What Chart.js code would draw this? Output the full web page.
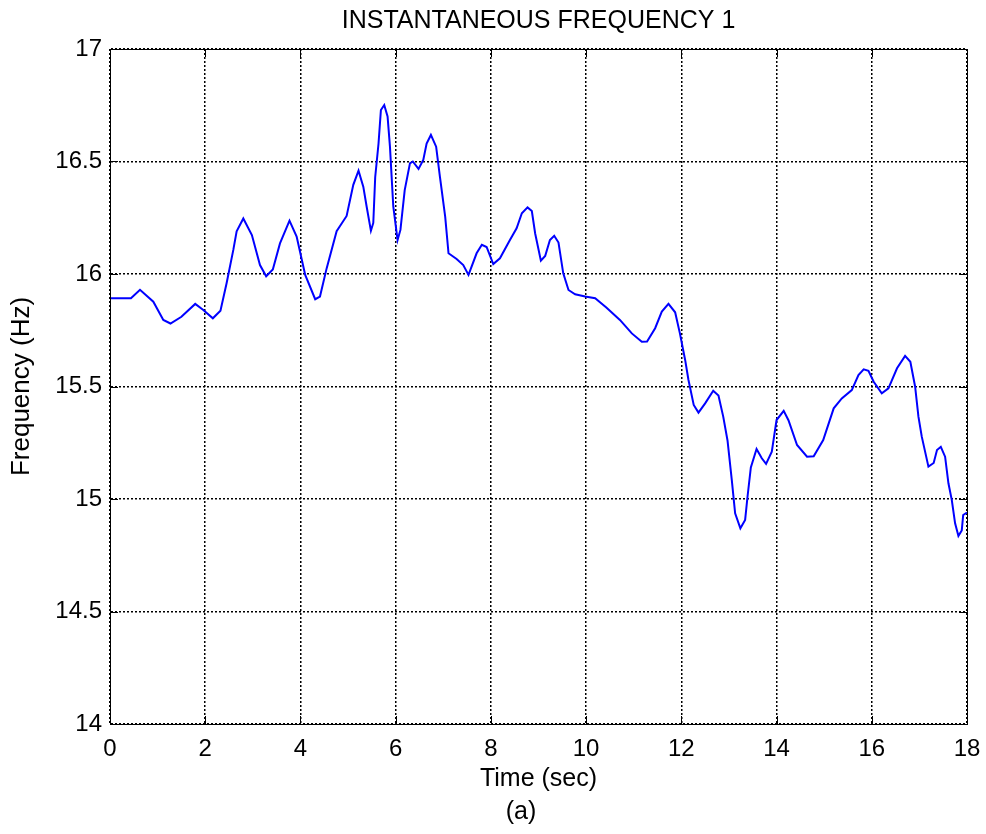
<!DOCTYPE html>
<html>
<head>
<meta charset="utf-8">
<title>Instantaneous Frequency 1</title>
<script src="https://cdn.jsdelivr.net/npm/chart.js@4.4.1/dist/chart.umd.min.js"></script>
<style>
    html, body { margin: 0; padding: 0; background: #fff; }
    canvas { display: block; }
</style>
</head>
<body>
<canvas id="freqChart" width="986" height="834"></canvas>
<script>
    // values (time in sec, frequency in Hz)
    const timeSec = [
        0, 0.44, 0.63, 0.91, 1.12, 1.27, 1.5, 1.79, 1.96, 2.16, 2.32, 2.45, 2.59, 2.66, 2.8, 2.98,
        3.15, 3.28, 3.42, 3.57, 3.77, 3.92, 4.1, 4.31, 4.41, 4.55, 4.76, 4.97, 5.11, 5.22, 5.32,
        5.39, 5.48, 5.53, 5.57, 5.64, 5.69, 5.76, 5.83, 5.88, 5.95, 6.04, 6.1, 6.19, 6.3, 6.36,
        6.48, 6.58, 6.65, 6.74, 6.85, 6.93, 7.04, 7.11, 7.28, 7.42, 7.53, 7.7, 7.81, 7.91, 8.05,
        8.19, 8.4, 8.54, 8.65, 8.77, 8.86, 8.93, 9.05, 9.14, 9.24, 9.33, 9.42, 9.52, 9.63, 9.77,
        9.98, 10.19, 10.43, 10.71, 10.96, 11.17, 11.28, 11.45, 11.59, 11.73, 11.87, 11.97, 12.08,
        12.15, 12.26, 12.36, 12.5, 12.67, 12.78, 12.88, 12.97, 13.06, 13.13, 13.24, 13.34, 13.39,
        13.46, 13.58, 13.69, 13.78, 13.9, 14.0, 14.15, 14.25, 14.43, 14.64, 14.78, 14.98, 15.2,
        15.37, 15.58, 15.72, 15.83, 15.93, 16.04, 16.21, 16.35, 16.53, 16.7, 16.81, 16.91, 16.98,
        17.05, 17.19, 17.3, 17.37, 17.45, 17.54, 17.61, 17.68, 17.75, 17.82, 17.89, 17.92, 18.0
    ];
    const freqHz = [
        15.892, 15.892, 15.93, 15.877, 15.796, 15.78, 15.81, 15.867, 15.84, 15.803, 15.837, 15.96, 16.107, 16.19, 16.247, 16.173,
        16.04, 15.99, 16.02, 16.136, 16.237, 16.166, 15.996, 15.888, 15.9, 16.025, 16.19, 16.258, 16.396, 16.459, 16.388,
        16.3, 16.192, 16.227, 16.43, 16.58, 16.729, 16.751, 16.7, 16.566, 16.3, 16.151, 16.196, 16.373, 16.492, 16.5,
        16.467, 16.507, 16.58, 16.618, 16.566, 16.432, 16.255, 16.092, 16.067, 16.04, 15.996, 16.092, 16.13, 16.12, 16.044,
        16.07, 16.151, 16.203, 16.27, 16.296, 16.28, 16.18, 16.059, 16.08, 16.151, 16.17, 16.14, 16.003, 15.929, 15.91,
        15.9, 15.892, 15.85, 15.796, 15.736, 15.699, 15.7, 15.759, 15.833, 15.867, 15.83, 15.736, 15.618,
        15.529, 15.418, 15.384, 15.425, 15.481, 15.46, 15.366, 15.26, 15.084, 14.936, 14.87, 14.907, 15.01,
        15.14, 15.222, 15.181, 15.156, 15.21, 15.351, 15.392, 15.35, 15.24, 15.188, 15.19, 15.262, 15.403,
        15.447, 15.484, 15.551, 15.576, 15.57, 15.521, 15.47, 15.492, 15.581, 15.636, 15.61, 15.5, 15.366,
        15.277, 15.144, 15.16, 15.218, 15.232, 15.188, 15.07, 14.996, 14.892, 14.836, 14.86, 14.929, 14.94
    ];
    const xTicks = [0, 2, 4, 6, 8, 10, 12, 14, 16, 18];
    const yTicks = [14, 14.5, 15, 15.5, 16, 16.5, 17];
    const panelLabel = "(a)";

    const FONT = "'Liberation Sans', Arial, sans-serif";

    // MATLAB style frame: full box and short inward tick marks
    const matlabFrame = {
        id: "matlabFrame",
        afterDatasetsDraw(chart) {
            const { ctx, chartArea: a, scales } = chart;
            const len = 8;
            ctx.save();
            ctx.strokeStyle = "#000";
            ctx.lineWidth = 1;
            ctx.beginPath();
            xTicks.forEach((t) => {
                const px = Math.round(scales.x.getPixelForValue(t)) + 0.5;
                ctx.moveTo(px, a.bottom); ctx.lineTo(px, a.bottom - len);
                ctx.moveTo(px, a.top); ctx.lineTo(px, a.top + len);
            });
            yTicks.forEach((t) => {
                const py = Math.round(scales.y.getPixelForValue(t)) + 0.5;
                ctx.moveTo(a.left, py); ctx.lineTo(a.left + len, py);
                ctx.moveTo(a.right, py); ctx.lineTo(a.right - len, py);
            });
            ctx.stroke();
            ctx.strokeRect(Math.round(a.left) + 0.5, Math.round(a.top) + 0.5,
                Math.round(a.right - a.left), Math.round(a.bottom - a.top));
            ctx.restore();
        },
        afterDraw(chart) {
            const { ctx } = chart;
            ctx.save();
            ctx.fillStyle = "#000";
            ctx.font = `25px ${FONT}`;
            ctx.textAlign = "center";
            ctx.textBaseline = "middle";
            ctx.fillText(panelLabel, 521, 812);
            ctx.restore();
        },
    };

    new Chart(document.getElementById("freqChart"), {
        type: "line",
        data: {
            datasets: [{
                data: timeSec.map((t, i) => ({ x: t, y: freqHz[i] })),
                borderColor: "#0000ff",
                borderWidth: 2,
                pointRadius: 0,
                tension: 0,
                fill: false,
                xAxisID: "x",
                yAxisID: "y",
            }],
        },
        options: {
            responsive: false,
            animation: false,
            layout: { padding: { left: 0, right: 19, top: 0, bottom: 0 } },
            plugins: {
                legend: { display: false },
                tooltip: { enabled: false },
            },
            scales: {
                // top axis only carries the title, centred over the axes like MATLAB
                top: {
                    type: "linear",
                    position: "top",
                    min: 0,
                    max: 18,
                    afterFit: (scale) => {
                        scale.height = 49;
                        scale.paddingLeft = 0;
                        scale.paddingRight = 0;
                    },
                    ticks: { display: false },
                    grid: { display: false, drawTicks: false },
                    border: { display: false },
                    title: {
                        display: true,
                        text: "INSTANTANEOUS FREQUENCY 1",
                        color: "#000",
                        font: { family: FONT, size: 25 },
                        padding: { top: 6, bottom: 0 },
                    },
                },
                x: {
                    type: "linear",
                    position: "bottom",
                    min: 0,
                    max: 18,
                    afterBuildTicks: (scale) => { scale.ticks = xTicks.map((v) => ({ value: v })); },
                    afterFit: (scale) => {
                        scale.height = 110;
                        scale.paddingLeft = 0;
                        scale.paddingRight = 0;
                    },
                    ticks: {
                        color: "#000",
                        font: { family: FONT, size: 24 },
                        padding: 11,
                        maxRotation: 0,
                        callback: (v) => String(v),
                    },
                    grid: { color: "#000", lineWidth: 1.5, drawTicks: false },
                    border: { display: true, color: "#000", width: 1, dash: [2, 2] },
                    title: {
                        display: true,
                        text: "Time (sec)",
                        color: "#000",
                        font: { family: FONT, size: 25 },
                        padding: { top: 0, bottom: 40 },
                    },
                },
                y: {
                    type: "linear",
                    min: 14,
                    max: 17,
                    afterBuildTicks: (scale) => { scale.ticks = yTicks.map((v) => ({ value: v })); },
                    afterFit: (scale) => { scale.width = 110; },
                    ticks: {
                        color: "#000",
                        font: { family: FONT, size: 24 },
                        padding: 8,
                        callback: (v) => String(v),
                    },
                    grid: { color: "#000", lineWidth: 1.5, drawTicks: false },
                    border: { display: true, color: "#000", width: 1, dash: [2, 2] },
                    title: {
                        display: true,
                        text: "Frequency (Hz)",
                        color: "#000",
                        font: { family: FONT, size: 26 },
                        padding: { top: 6, bottom: 0 },
                    },
                },
            },
        },
        plugins: [matlabFrame],
    });
</script>
</body>
</html>
